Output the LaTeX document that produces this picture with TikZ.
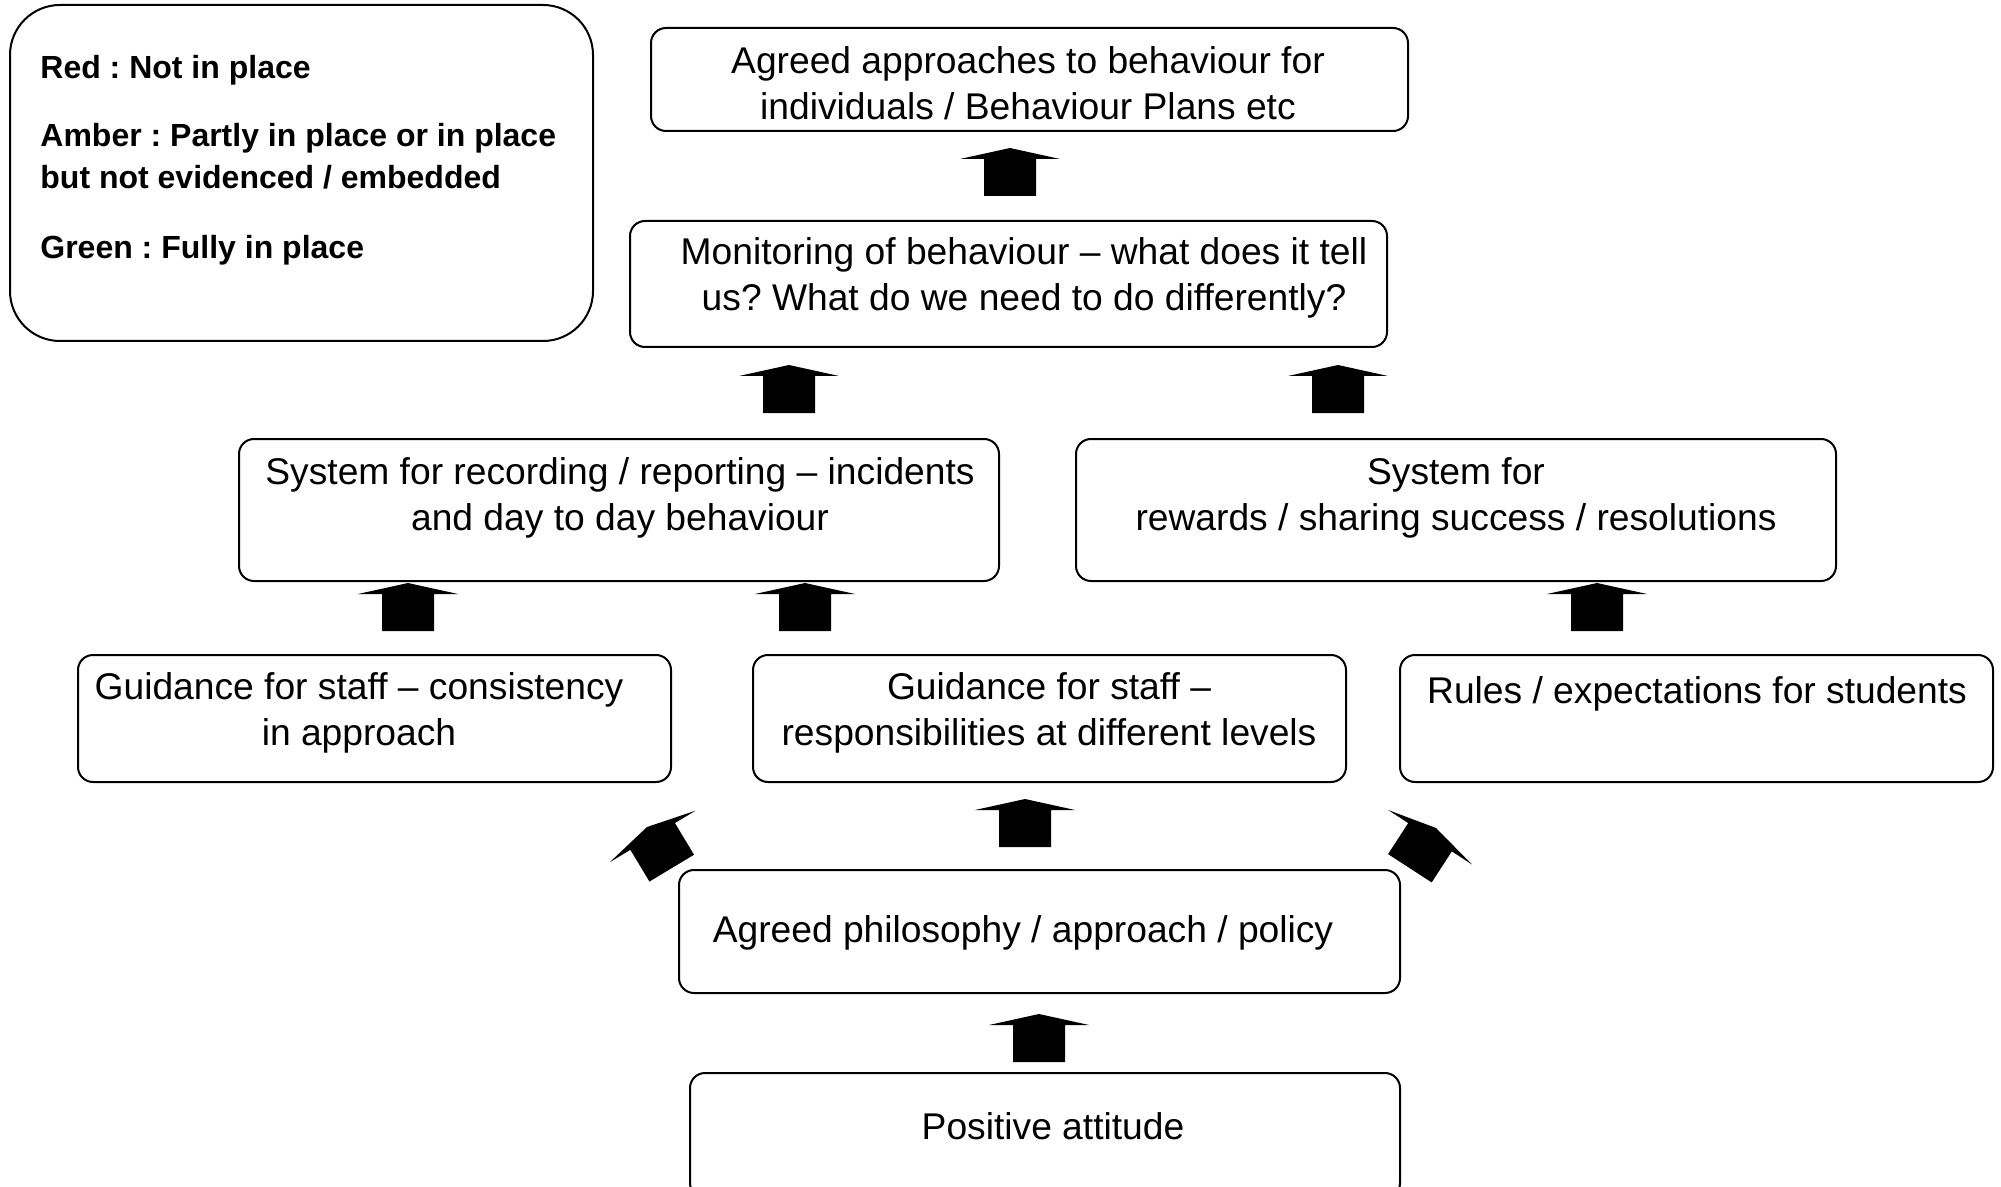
\documentclass[tikz,border=0pt]{standalone}
\usepackage{fontspec}
\setmainfont{Liberation Sans}
\frenchspacing
\begin{document}
\begin{tikzpicture}[x=0.5pt,y=-0.5pt,
  box/.style={draw, line width=1pt, rounded corners=7.5pt, inner sep=0pt},
  txt/.style={font=\frenchspacing\fontsize{18.6}{23}\selectfont, align=center, inner sep=0pt},
  leg/.style={font=\frenchspacing\fontsize{16}{21}\selectfont\bfseries, align=left, anchor=west, inner sep=0pt},
  blk/.pic={\fill (0,0) -- (50,11) -- (26,11) -- (26,48) -- (-26,48) -- (-26,11) -- (-50,11) -- cycle;}
]
\clip (0,0) rectangle (2001,1187);
% boxes
\node[box, rounded corners=25pt, minimum width=291.5pt, minimum height=168pt] (legend) at (301.5,173) {};
\node[box, minimum width=378.5pt, minimum height=51.5pt] (top) at (1029.5,79.5) {};
\node[box, minimum width=378.5pt, minimum height=63pt] (mon) at (1008.5,284) {};
\node[box, minimum width=380pt, minimum height=71pt] (rec) at (619,510) {};
\node[box, minimum width=380pt, minimum height=71pt] (rew) at (1456,510) {};
\node[box, minimum width=296.5pt, minimum height=63.5pt] (gc) at (374.5,718.5) {};
\node[box, minimum width=296.5pt, minimum height=63.5pt] (gr) at (1049.5,718.5) {};
\node[box, minimum width=296.5pt, minimum height=63.5pt] (rules) at (1696.5,718.5) {};
\node[box, minimum width=360.5pt, minimum height=61.5pt] (phil) at (1039.5,931.5) {};
\node[box, minimum width=355pt, minimum height=62.5pt] (pos) at (1045,1135.5) {};
% legend text
\node[leg] (lred) at (40,70) {Red : Not in place};
\node[leg] (lamber) at (40,156) {Amber : Partly in place or in place\\but not evidenced / embedded};
\node[leg] (lgreen) at (40,250) {Green : Fully in place};
% box texts
\node[txt] (tTop) at (1028,83) {Agreed approaches to behaviour for\\individuals / Behaviour Plans etc};
\node[txt] (tMon) at (1024,278) {Monitoring of behaviour -- what does it tell\\us? What do we need to do differently?};
\node[txt] (tRec) at (620,498) {System for recording / reporting -- incidents\\and day to day behaviour};
\node[txt] (tRew) at (1456,498) {System for\\rewards / sharing success / resolutions};
\node[txt] (tGc) at (359,713) {Guidance for staff -- consistency\\in approach};
\node[txt] (tGr) at (1049,713) {Guidance for staff --\\responsibilities at different levels};
\node[txt] (tRules) at (1697,694) {Rules / expectations for students};
\node[txt] (tPhil) at (1023,933) {Agreed philosophy / approach / policy};
\node[txt] (tPos) at (1053,1126) {Positive attitude};
% block arrows
\pic at (1010,148) {blk};
\pic at (789,365) {blk};
\pic at (1338,365) {blk};
\pic at (408,583) {blk};
\pic at (805,583) {blk};
\pic at (1597,583) {blk};
\pic at (1025,799) {blk};
\pic at (1039,1014) {blk};
\pic[rotate=31] at (647,827) {blk};
\pic[rotate=-33] at (1436,828) {blk};
\end{tikzpicture}
\end{document}
